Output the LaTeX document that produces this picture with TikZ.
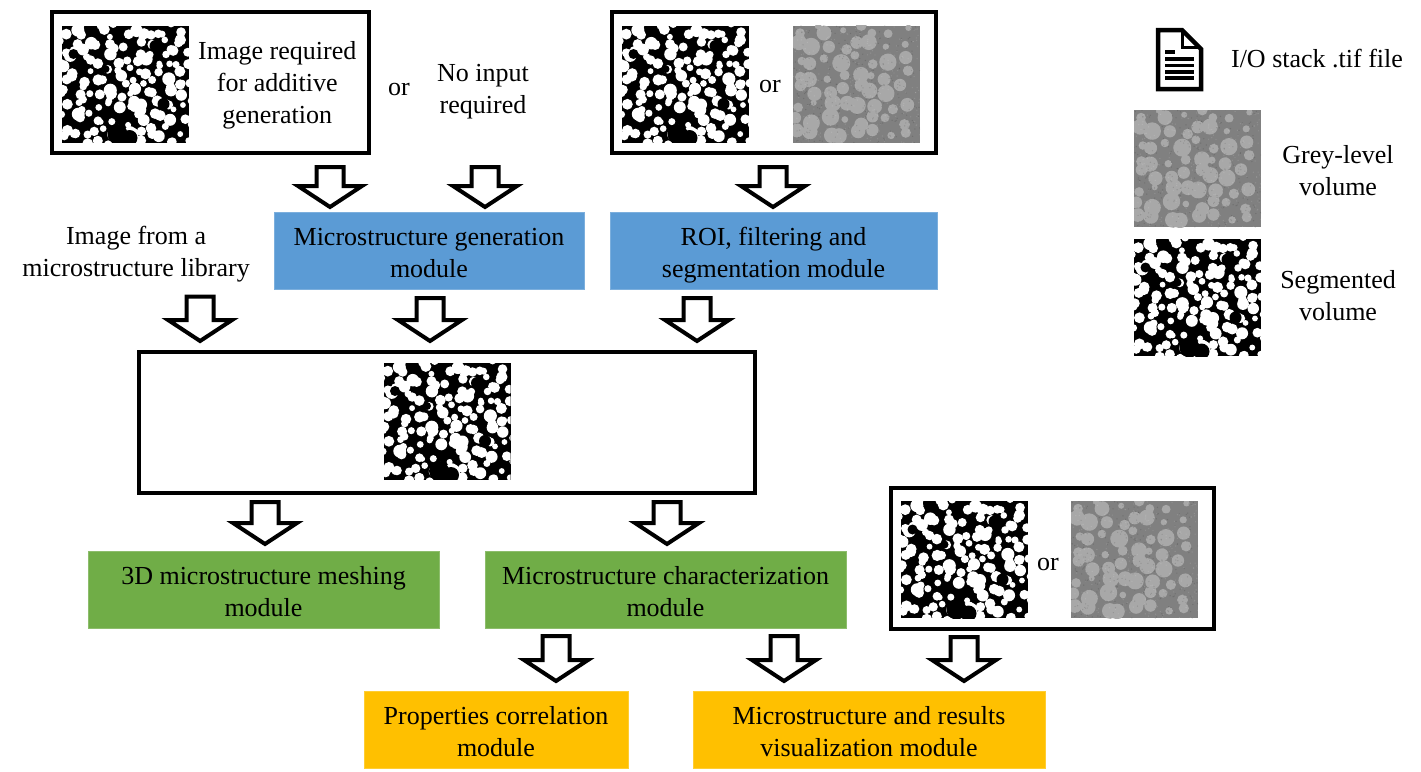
\documentclass[tikz,border=0pt]{standalone}
\usepackage{fontspec}
\setmainfont{Liberation Serif}
\usetikzlibrary{positioning, calc}
\definecolor{genblue}{HTML}{5B9BD5}
\definecolor{meshgreen}{HTML}{70AD47}
\definecolor{vizyellow}{HTML}{FFC000}
\newcommand{\tline}{\rule{0pt}{28pt}}
\newcommand{\segblobs}{%
  \begin{scope}[shift={(path picture bounding box.center)}]
    \pgfmathsetseed{2024}
    \foreach \gx in {-60,-50,...,60} {
      \foreach \gy in {-55,-45,...,55} {
        \pgfmathsetmacro{\bx}{\gx+rand*6}
        \pgfmathsetmacro{\by}{\gy+rand*6}
        \pgfmathsetmacro{\br}{2.8+rnd*3.8}
        \fill[white] (\bx,\by) circle (\br pt);
      }
    }
    \fill[black] (-8,50) circle (10pt) (4,54) circle (8pt) (30,-38) circle (6pt) (-52,-30) circle (5pt) (38,20) circle (6pt) (-20,-15) circle (4pt);
  \end{scope}
}
\newcommand{\greyblobs}{%
  \begin{scope}[shift={(path picture bounding box.center)}]
    \pgfmathsetseed{4242}
    \foreach \gx in {-58,-43,...,58} {
      \foreach \gy in {-54,-39,...,54} {
        \pgfmathsetmacro{\bx}{\gx+rand*5}
        \pgfmathsetmacro{\by}{\gy+rand*5}
        \pgfmathsetmacro{\br}{3+rnd*6}
        \fill[gray!68!white] (\bx,\by) circle (\br pt);
      }
    }
    \foreach \i in {1,...,300} {
      \pgfmathsetmacro{\bx}{rand*64}
      \pgfmathsetmacro{\by}{rand*59}
      \fill[black, opacity=0.12] (\bx,\by) circle (0.7pt);
      \pgfmathsetmacro{\bx}{rand*64}
      \pgfmathsetmacro{\by}{rand*59}
      \fill[white, opacity=0.12] (\bx,\by) circle (0.7pt);
    }
  \end{scope}
}
\tikzset{
  txt/.style={align=center, inner sep=0pt, font=\fontsize{26}{32}\selectfont},
  framebox/.style={draw=black, line width=4pt, fill=white, inner sep=0pt, outer sep=0pt},
  modbox/.style={txt, draw=#1!80!white, line width=1pt, fill=#1, text=black, outer sep=0pt, minimum height=77pt,
    execute at end node={\rule[-6pt]{0pt}{6pt}}},
  segvol/.style={fill=black, inner sep=0pt, outer sep=0pt, minimum width=127pt, minimum height=117pt, path picture={\segblobs}},
  greyvol/.style={fill=gray, inner sep=0pt, outer sep=0pt, minimum width=127pt, minimum height=117pt, path picture={\greyblobs}},
  blockarrow/.style={draw=black, line width=4pt, fill=white, miter limit=10, to path={
    let \p1=(\tikztostart), \p2=(\tikztotarget) in
    (\x1-13.5pt,\y1) -- (\x1-13.5pt,\y2+21pt) -- (\x1-32pt,\y2+21pt) -- (\x1,\y2)
    -- (\x1+32pt,\y2+21pt) -- (\x1+13.5pt,\y2+21pt) -- (\x1+13.5pt,\y1) -- cycle}}
}
\begin{document}
\begin{tikzpicture}[x=1pt, y=-1pt]
\useasboundingbox (0,0) rectangle (1421,771);

% top row
\node[framebox, minimum width=317pt, minimum height=141pt] (reqbox) at (210.5,82.5) {};
\node[segvol, right=10pt of reqbox.west, yshift=-1.5pt] (seg1) {};
\node[txt, right=9pt of seg1, yshift=-1pt] (reqtxt) {Image required\\for additive\\generation};
\node[txt] (or1) at (399,90) {or};
\node[txt] (noinp) at (483,92) {No input\\required};
\node[framebox, minimum width=324pt, minimum height=141pt] (roibox) at (774,82.5) {};
\node[segvol, right=10pt of roibox.west, yshift=-1.5pt] (seg2) {};
\node[greyvol, right=44pt of seg2] (grey2) {};
\node[txt] (or2) at (770,87) {or};

% legend
\node[txt] (stacktxt) at (1317,59) {I/O stack .tif file};
\node[greyvol] (grey3) at (1197.5,168.5) {};
\node[txt] (greytxt) at (1338,171) {Grey-level\\volume};
\node[segvol, below=12pt of grey3] (seg3) {};
\node[txt] (segtxt) at (1338,295.5) {Segmented\\volume};
\draw[line width=4.5pt, fill=white, miter limit=4] (1158,30) -- (1182,30) -- (1201,49) -- (1201,89) -- (1158,89) -- cycle;
\draw[line width=3pt] (1182,30) -- (1182,47) -- (1201,47);
\draw[line width=3.2pt] (1165,52) -- (1175,52) (1165,59) -- (1194,59) (1165,65.5) -- (1194,65.5) (1165,72) -- (1194,72) (1165,78) -- (1194,78);

% modules
\node[modbox=genblue, minimum width=310pt] (gen) at (429,250.5) {\tline Microstructure generation\\module};
\node[modbox=genblue, minimum width=327pt, right=26pt of gen] (roi) {\tline ROI, filtering and\\segmentation module};
\node[txt, left=24pt of gen, yshift=-4pt] (lib) {Image from a\\microstructure library};

% central volume
\node[framebox, minimum width=616pt, minimum height=141pt] (volbox) at (447,422.5) {};
\node[segvol, yshift=1.5pt] (seg4) at (volbox.center) {};

% second level
\node[modbox=meshgreen, minimum width=351pt] (mesh) at (263.5,589.5) {\tline 3D microstructure meshing\\module};
\node[modbox=meshgreen, minimum width=361pt, right=46pt of mesh] (char) {\tline Microstructure characterization\\module};
\node[framebox, minimum width=323pt, minimum height=141pt] (visbox) at (1052.5,558.5) {};
\node[segvol, right=10pt of visbox.west, yshift=-1pt] (seg5) {};
\node[greyvol, right=43pt of seg5] (grey5) {};
\node[txt] (or3) at (1048,564) {or};

% third level
\node[modbox=vizyellow, minimum width=264pt] (corr) at (496,729.5) {\tline Properties correlation\\module};
\node[modbox=vizyellow, minimum width=352pt, right=65pt of corr] (viz) {\tline Microstructure and results\\visualization module};

% block arrows
\draw[blockarrow] ([xshift=119.5pt,yshift=-14pt]reqbox.south) to ([yshift=5pt]gen.north);
\draw[blockarrow] ([xshift=56pt,yshift=-14pt]gen.north |- reqbox.south) to ([yshift=5pt]gen.north);
\draw[blockarrow] ([yshift=-14pt,xshift=-1pt]roibox.south) to ([yshift=5pt]roi.north);
\draw[blockarrow] ([yshift=-14pt,xshift=64pt]lib.south) to ([yshift=11pt]volbox.north);
\draw[blockarrow] ([yshift=-9pt,xshift=1pt]gen.south) to ([yshift=11pt]volbox.north);
\draw[blockarrow] ([yshift=-9pt,xshift=-76.5pt]roi.south) to ([yshift=11pt]volbox.north);
\draw[blockarrow] ([yshift=-9pt,xshift=1.5pt]mesh.north |- volbox.south) to ([yshift=7pt]mesh.north);
\draw[blockarrow] ([yshift=-9pt,xshift=1.5pt]char.north |- volbox.south) to ([yshift=7pt]char.north);
\draw[blockarrow] ([yshift=-8pt,xshift=-109.5pt]char.south) to ([yshift=10pt]corr.north);
\draw[blockarrow] ([yshift=-8pt,xshift=118.5pt]char.south) to ([yshift=10pt]viz.north);
\draw[blockarrow] ([yshift=-8pt,xshift=-88.5pt]visbox.south) to ([yshift=10pt]viz.north);
\end{tikzpicture}
\end{document}
